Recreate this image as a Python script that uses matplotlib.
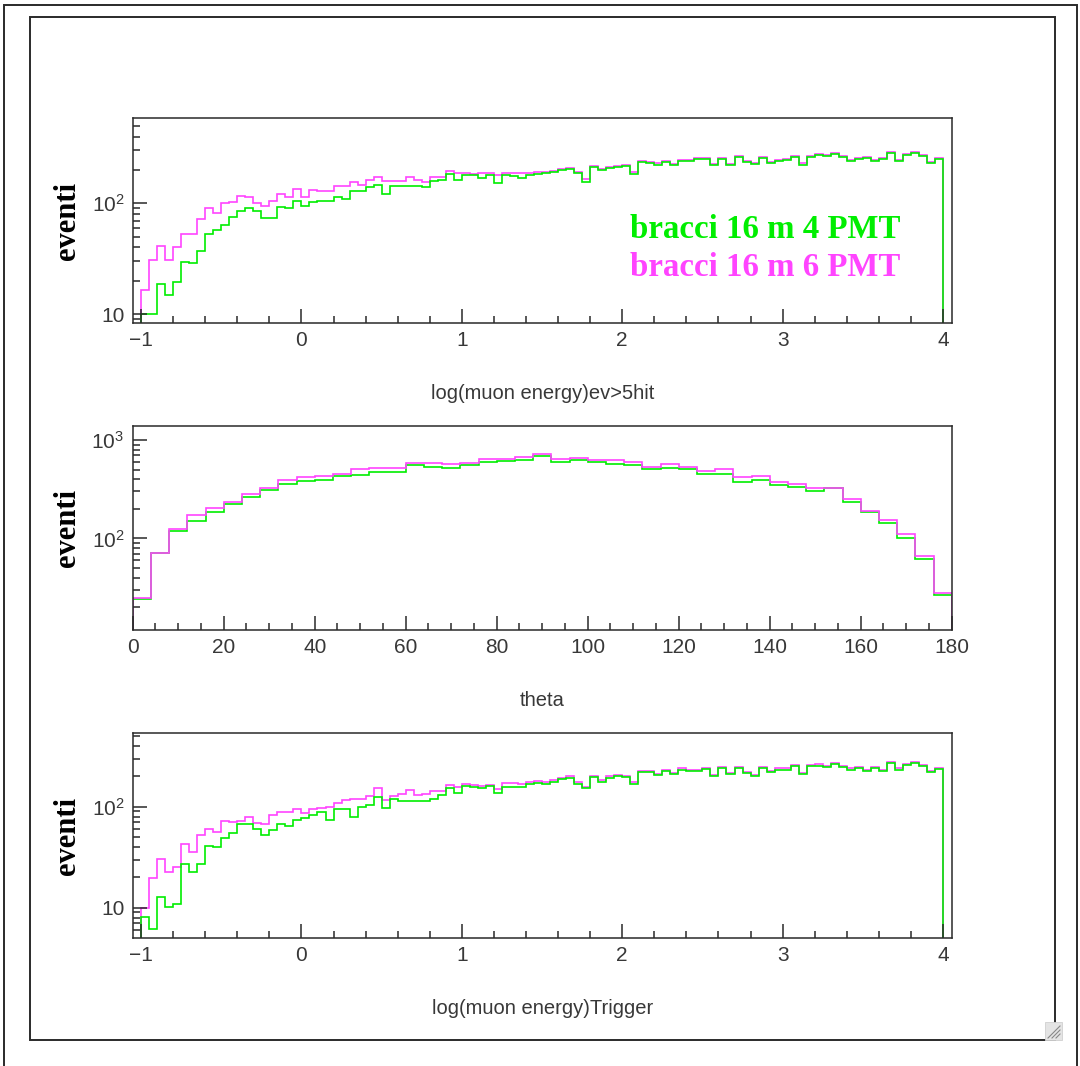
import numpy as np
import matplotlib
matplotlib.use("Agg")
from matplotlib import pyplot as plt
from matplotlib.patches import Rectangle
from matplotlib.lines import Line2D
from matplotlib.ticker import MultipleLocator, FixedLocator, FixedFormatter, LogLocator, NullFormatter

plt.rcParams['font.family'] = ['Liberation Sans', 'DejaVu Sans']
plt.rcParams['mathtext.fontset'] = 'custom'
plt.rcParams['mathtext.rm'] = 'Liberation Sans'

############################# data #####################################################
# log(muon energy): 100 bins from -1 to 4
loge_edges = np.linspace(-1, 4, 101)

ev5hit_4pmt = [10, 10, 18.8, 15, 19.5, 29.6, 29, 37, 53, 57.5,
               64, 76, 85, 90, 85, 74, 74, 92, 90, 106,
               95, 103, 106, 106, 115, 109, 128, 128, 139, 147,
               121, 143, 143, 143, 143, 139, 160, 164, 184, 164,
               179, 179, 169, 179, 151, 179, 175, 169, 179, 184,
               186, 191, 200, 205, 186, 156, 211, 200, 208, 214,
               217, 184, 236, 229, 223, 236, 220, 242, 242, 249,
               253, 220, 249, 220, 259, 236, 226, 256, 232, 242,
               246, 263, 223, 259, 271, 267, 278, 263, 242, 249,
               256, 239, 249, 286, 242, 271, 286, 267, 232, 249]
ev5hit_6pmt = [16.6, 31, 41, 31, 40, 53, 53, 72, 90, 82,
               100, 103, 116, 113, 100, 95, 106, 121, 113, 135,
               115, 132, 128, 128, 143, 143, 156, 147, 164, 174,
               158, 160, 158, 174, 162, 156, 174, 174, 194, 189,
               189, 184, 186, 189, 180, 189, 186, 186, 186, 190,
               190, 195, 204, 210, 193, 166, 216, 205, 213, 219,
               222, 190, 241, 234, 229, 241, 226, 247, 248, 255,
               258, 226, 255, 226, 265, 241, 232, 261, 238, 248,
               251, 268, 229, 265, 277, 273, 284, 269, 248, 255,
               262, 245, 255, 292, 248, 277, 292, 273, 238, 255]

# theta: 45 bins from 0 to 180
theta_edges = np.linspace(0, 180, 46)
theta_6pmt = [25, 71, 126, 173, 202, 236, 285, 325, 389, 417,
              430, 455, 504, 519, 519, 583, 583, 566, 583, 645,
              645, 671, 726, 645, 661, 631, 621, 602, 527, 570,
              531, 484, 504, 417, 430, 377, 354, 325, 325, 253,
              190, 154, 112, 66, 27.6]
theta_4pmt = [24.2, 71, 119, 152, 184, 223, 261, 308, 354, 383,
              392, 427, 444, 473, 473, 552, 531, 515, 552, 593,
              607, 631, 693, 593, 631, 593, 570, 557, 507, 523,
              504, 448, 448, 377, 392, 349, 335, 305, 325, 232,
              187, 145, 100, 61, 26.5]

trigger_4pmt = [8.1, 6.1, 12.8, 10.2, 11, 26.9, 22.4, 26.9, 41, 40,
                49, 55, 68, 68, 60, 52, 58.7, 68, 65, 74,
                76.5, 83, 89, 74, 96, 96, 80, 100, 104, 126,
                98, 119, 114, 114, 114, 114, 119, 130, 152, 137,
                161, 157, 152, 162, 137, 157, 157, 157, 166, 170,
                169, 177, 188, 194, 169, 152, 197, 177, 194, 200,
                197, 169, 219, 219, 206, 225, 212, 232, 225, 225,
                236, 202, 240, 212, 240, 215, 202, 243, 219, 232,
                232, 251, 212, 251, 255, 247, 263, 247, 232, 243,
                225, 243, 225, 270, 232, 259, 270, 251, 219, 236]
trigger_6pmt = [10, 19.8, 30.3, 22.4, 25.3, 43, 35.8, 52, 60, 56.5,
                72.6, 71, 72, 79.6, 68.4, 68, 83, 89, 89, 96,
                86, 95, 98, 100, 110, 116, 119, 119, 127, 152,
                116, 127, 135, 146, 130, 135, 143, 143, 164, 157,
                169, 164, 159, 164, 150, 170, 170, 168, 174, 180,
                174, 182, 194, 200, 174, 158, 203, 183, 200, 206,
                203, 175, 226, 226, 212, 231, 218, 239, 231, 232,
                243, 208, 247, 218, 247, 221, 208, 250, 226, 239,
                239, 258, 218, 258, 262, 254, 270, 254, 239, 250,
                232, 250, 232, 277, 239, 266, 277, 258, 225, 242]

legend_labels = ['bracci 16 m 4 PMT', 'bracci 16 m 6 PMT']
xtitles = ['log(muon energy)ev>5hit', 'theta', 'log(muon energy)Trigger']

GREEN = '#00ee00'
MAGENTA = '#ff44ff'
DARK = '#2a2a2a'
TXT = '#383838'

W, H = 1080, 1066
fig = plt.figure(figsize=(W / 100, H / 100), dpi=100)

def fx(px):
    return px / W

def fy(py):
    return 1 - py / H

# window frames
fig.add_artist(Rectangle((fx(4), fy(1075)), fx(1077) - fx(4), fy(5) - fy(1075),
                         transform=fig.transFigure, fill=False, ec=DARK, lw=1.4))
fig.add_artist(Rectangle((fx(30), fy(1040)), fx(1055) - fx(30), fy(17) - fy(1040),
                         transform=fig.transFigure, fill=False, ec=DARK, lw=1.4))
# resize grip
fig.add_artist(Rectangle((fx(1045), fy(1040)), fx(1062) - fx(1045), fy(1022) - fy(1040),
                         transform=fig.transFigure, fc='#e4e4e4', ec='#d0d0d0', lw=0.6))
for d in (4, 8, 12):
    fig.add_artist(Line2D([fx(1060 - d), fx(1060)], [fy(1038), fy(1038 - d)],
                          transform=fig.transFigure, color='#888888', lw=0.8))

def setup_axes(top_px, bot_px):
    ax = fig.add_axes([fx(132.7), fy(bot_px), fx(951.7) - fx(132.7), fy(top_px) - fy(bot_px)])
    ax.set_yscale('log')
    for s in ax.spines.values():
        s.set_color(DARK)
        s.set_linewidth(1.1)
    ax.tick_params(which='both', direction='in', top=False, right=False, color=DARK,
                   width=1.1, labelcolor=TXT, labelsize=15)
    ax.tick_params(which='major', length=10)
    ax.tick_params(which='minor', length=5)
    ax.tick_params(axis='x', pad=6)
    ax.tick_params(axis='y', pad=6)
    ax.yaxis.set_minor_locator(LogLocator(base=10, subs=np.arange(2, 10)))
    ax.yaxis.set_minor_formatter(NullFormatter())
    return ax

def ytitle(ax):
    ax.text(-0.079, 0.5, 'eventi', transform=ax.transAxes, rotation=90, ha='center', va='center',
            fontsize=22, fontweight='bold', family='Liberation Serif', color='black')

def xtitle(ax, s):
    ax.text(0.5, -0.344, s, transform=ax.transAxes, ha='center', va='center',
            fontsize=14.5, color=TXT)

# ---------------- top: log(muon energy) ev>5hit
ax1 = setup_axes(118.3, 322.7)
ax1.stairs(ev5hit_6pmt, loge_edges, baseline=1, color=MAGENTA, lw=1.2)
ax1.stairs(ev5hit_4pmt, loge_edges, baseline=1, color=GREEN, lw=1.2)
ax1.set_xlim(-1.052, 4.054)
ax1.set_ylim(8.4, 584)
ax1.xaxis.set_major_locator(MultipleLocator(1))
ax1.xaxis.set_minor_locator(MultipleLocator(0.2))
ax1.yaxis.set_major_locator(FixedLocator([10, 100]))
ax1.yaxis.set_major_formatter(FixedFormatter(['10', r'$\mathregular{10^{2}}$']))
ytitle(ax1)
xtitle(ax1, xtitles[0])
fig.text(fx(630), fy(229), legend_labels[0], ha='left', va='center', fontsize=23.7,
         fontweight='bold', family='Liberation Serif', color=GREEN)
fig.text(fx(630), fy(268), legend_labels[1], ha='left', va='center', fontsize=23.7,
         fontweight='bold', family='Liberation Serif', color=MAGENTA)

# ---------------- middle: theta
ax2 = setup_axes(425.7, 630)
ax2.stairs(theta_4pmt, theta_edges, baseline=1, color=GREEN, lw=1.2)
ax2.stairs(theta_6pmt, theta_edges, baseline=1, color=MAGENTA, lw=1.2)
ax2.set_xlim(0, 180)
ax2.set_ylim(11.7, 1400)
ax2.xaxis.set_major_locator(MultipleLocator(20))
ax2.xaxis.set_minor_locator(MultipleLocator(5))
ax2.yaxis.set_major_locator(FixedLocator([100, 1000]))
ax2.yaxis.set_major_formatter(FixedFormatter([r'$\mathregular{10^{2}}$', r'$\mathregular{10^{3}}$']))
ytitle(ax2)
xtitle(ax2, xtitles[1])

# ---------------- bottom: log(muon energy) Trigger
ax3 = setup_axes(733.3, 937.7)
ax3.stairs(trigger_6pmt, loge_edges, baseline=1, color=MAGENTA, lw=1.2)
ax3.stairs(trigger_4pmt, loge_edges, baseline=1, color=GREEN, lw=1.2)
ax3.set_xlim(-1.052, 4.054)
ax3.set_ylim(5.05, 533)
ax3.xaxis.set_major_locator(MultipleLocator(1))
ax3.xaxis.set_minor_locator(MultipleLocator(0.2))
ax3.yaxis.set_major_locator(FixedLocator([10, 100]))
ax3.yaxis.set_major_formatter(FixedFormatter(['10', r'$\mathregular{10^{2}}$']))
ytitle(ax3)
xtitle(ax3, xtitles[2])

plt.savefig('out.png', dpi=100)
